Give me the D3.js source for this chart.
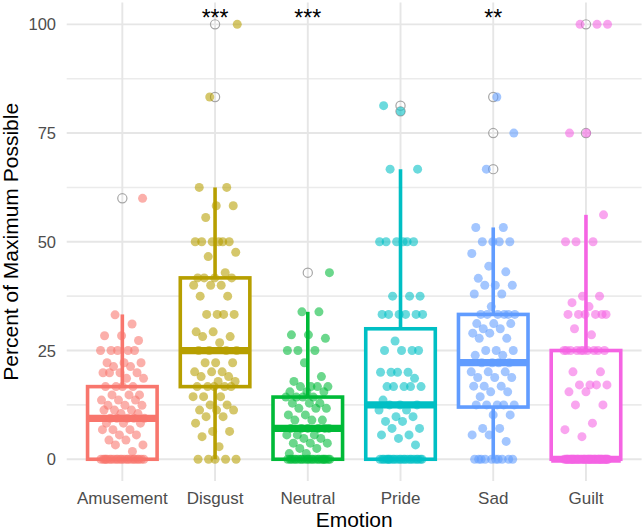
<!DOCTYPE html>
<html><head><meta charset="utf-8">
<script src="https://cdn.jsdelivr.net/npm/d3@7"></script>
<style>body{margin:0;background:#fff}svg{display:block}</style>
</head><body><svg id="chart" width="644" height="529"></svg>
<script>
const categories = ["Amusement","Disgust","Neutral","Pride","Sad","Guilt"];
const colors = ["#F8766D","#B79F00","#00BA38","#00BFC4","#619CFF","#F564E3"];
const yTicks = [0,25,50,75,100];
const yMinor = [12.5,37.5,62.5,87.5];
const boxLower  = [0,0,0,0,0,0];
const boxQ1     = [0,16.7,0,0,12,0];
const boxMedian = [9.4,25,7.1,12.5,22.2,0];
const boxQ3     = [16.7,41.7,14.3,30,33.3,25];
const boxUpper  = [33.3,62.5,33.9,66.7,53.3,56.2];
const outliers  = [[60],[83.3,100],[42.9],[80,81.3],[66.7,75,83.3],[75,100]];
const significance = ["","***","***","","**",""];

const amusement = [0,0,0,0,0,0,0,0,0,0,0,0,0,0,0,0,0,0,0,0,0,0,1.8,3.3,3.3,4.4,4.4,5.6,5.6,6.8,6.8,6.8,8.3,8.3,8.3,9.4,9.4,9.4,9.4,9.4,10.5,10.5,11.3,11.3,11.3,12.4,12.4,12.4,13.6,13.6,13.6,14.8,14.8,14.8,16.7,16.7,16.7,16.7,18.6,18.6,19.9,19.9,19.9,19.9,21.3,21.3,22.2,22.2,22.2,25,25,25,25,25,27.3,28.4,28.4,31.1,33.2,60];
const disgust = [0,0,0,0,0,2.9,5.2,6.4,6.4,8.3,9.8,9.8,11.3,11.3,11.3,12.5,12.5,14.4,14.4,14.4,16.7,16.7,16.7,16.7,16.7,17.9,17.9,19,19,20.1,20.1,20.1,22.2,22.2,22.2,25,25,25,25,26.8,28.2,28.2,29.3,29.3,33.3,33.3,33.3,33.3,37.5,37.5,40,40,40,41.7,41.7,41.7,41.7,42.9,46.6,47.6,50,50,50,50,50,50,55.6,58.3,58.3,62.5,62.5,83.3,100];
const neutral = [0,0,0,0,0,0,0,0,0,0,0,0,0,0,0,0,0,0,0,0,0,0,1.3,1.3,2.5,2.5,3.7,3.7,3.7,4.8,4.8,5.6,5.6,5.6,7.1,7.1,7.1,7.1,7.1,7.1,9,9,9,10.2,10.2,11.7,11.7,11.7,12.9,12.9,12.9,14.3,14.3,14.3,14.3,15.5,15.5,15.5,16.7,16.7,16.7,16.7,17.9,19,22.2,25,25,25,27.8,28.6,28.6,33.9,33.9,42.9];
const pride = [0,0,0,0,0,0,0,0,0,0,0,0,0,0,0,0,0,0,0,0,0,0,3.3,4.8,5.6,5.6,7.1,7.1,8.7,8.7,9.8,9.8,11.3,11.3,12.5,12.5,12.5,13.6,16.7,16.7,16.7,16.7,16.7,18.6,20,20,20,20,25,25,25,25,27.2,33.3,33.3,33.3,33.3,33.3,33.3,37.5,37.5,37.5,50,50,50,50,50,50,66.7,66.7,80,81.3];
const sad = [0,0,0,0,0,0,0,0,0,0,4.1,5.6,5.6,7.1,7.1,10.2,10.2,12.5,12.5,12.5,12.5,12.5,14.4,15.5,15.5,16.8,16.8,16.8,18.8,18.8,18.8,20.1,20.1,20.1,22.2,22.2,22.2,22.2,23.9,23.9,25,25,25,27.8,27.8,29,29,30,30,31.2,31.2,31.2,33.3,33.3,33.3,33.3,33.3,33.3,35.1,38,38,40,40,40,41.6,43.1,44.4,47.3,50,50,50,50,53.3,53.3,66.7,75,83.3];
const guilt = [0,0,0,0,0,0,0,0,0,0,0,0,0,0,0,0,0,0,0,0,0,0,0,0,0,0,0,0,0,0,0,0,0,0,0,0,0,0,0,0,0,0,0,0,0,0,5.2,6.8,8.3,12.5,12.5,15.5,15.5,17.1,17.1,17.1,17.1,20.1,20.1,25,25,25,25,25,25,25,25,25,25,28.6,30,33.3,33.3,33.3,33.3,33.3,33.3,35.1,36,37.5,37.5,50,50,50,56.2,75,75,100,100,100];
const pointSeries = [amusement, disgust, neutral, pride, sad, guilt];

const svg = d3.select("#chart");
const panel = {left: 66.7, right: 641.6, top: 2.6, bottom: 481};
const x = d3.scalePoint().domain(categories).range([panel.left, panel.right]).padding(0.6);
const y = d3.scaleLinear().domain([-5,105]).range([panel.bottom, panel.top]);
const step = x.step();
const boxHalf = 0.375 * step;
const jitterHalf = 0.24 * step;
const font = "'Liberation Sans', Arial, Helvetica, sans-serif";

// grid
const grid = svg.append("g");
grid.selectAll(".minor").data(yMinor).join("line")
  .attr("x1", panel.left).attr("x2", panel.right)
  .attr("y1", d => y(d)).attr("y2", d => y(d))
  .attr("stroke", "#ebebeb").attr("stroke-width", 1.6);
grid.selectAll(".major").data(yTicks).join("line")
  .attr("x1", panel.left).attr("x2", panel.right)
  .attr("y1", d => y(d)).attr("y2", d => y(d))
  .attr("stroke", "#e6e6e6").attr("stroke-width", 1.9);
grid.selectAll(".vert").data(categories).join("line")
  .attr("x1", d => x(d)).attr("x2", d => x(d))
  .attr("y1", panel.top).attr("y2", panel.bottom)
  .attr("stroke", "#e6e6e6").attr("stroke-width", 1.9);

// boxplots
const lw = 3.6;
const boxes = svg.append("g");
categories.forEach((c, i) => {
  const g = boxes.append("g");
  const cx = x(c), col = colors[i];
  g.append("line").attr("x1", cx).attr("x2", cx).attr("y1", y(boxQ3[i])).attr("y2", y(boxUpper[i]))
    .attr("stroke", col).attr("stroke-width", lw);
  g.append("line").attr("x1", cx).attr("x2", cx).attr("y1", y(boxQ1[i])).attr("y2", y(boxLower[i]))
    .attr("stroke", col).attr("stroke-width", lw);
  g.append("rect").attr("x", cx - boxHalf).attr("width", 2 * boxHalf)
    .attr("y", y(boxQ3[i])).attr("height", Math.max(0.01, y(boxQ1[i]) - y(boxQ3[i])))
    .attr("fill", "#fff").attr("stroke", col).attr("stroke-width", lw);
  g.append("line").attr("x1", cx - boxHalf).attr("x2", cx + boxHalf)
    .attr("y1", y(boxMedian[i])).attr("y2", y(boxMedian[i]))
    .attr("stroke", col).attr("stroke-width", lw * 2);
  g.selectAll("circle").data(outliers[i]).join("circle")
    .attr("cx", cx).attr("cy", d => y(d)).attr("r", 4.6)
    .attr("fill", "none").attr("stroke", "#a6a6a6").attr("stroke-width", 1.2);
});

// jittered points
const pts = svg.append("g");
pointSeries.forEach((arr, i) => {
  const c = categories[i];
  pts.append("g").selectAll("circle").data(arr).join("circle")
    .attr("cx", (d, j) => {
      const f = ((j * 0.6180339887 + i * 0.37 + 0.13) % 1);
      return x(c) + (f - 0.5) * 2 * jitterHalf;
    })
    .attr("cy", d => y(d)).attr("r", 4.5)
    .attr("fill", colors[i]).attr("fill-opacity", 0.58);
});

// significance
svg.append("g").selectAll("text").data(categories.filter((c, i) => significance[i]))
  .join("text")
  .attr("x", d => x(d)).attr("y", 25.5)
  .attr("text-anchor", "middle").attr("font-family", font).attr("font-size", 23)
  .attr("fill", "#000")
  .text(d => significance[categories.indexOf(d)]);

// axes text
svg.append("g").selectAll("text").data(yTicks).join("text")
  .attr("x", 56).attr("y", d => y(d) + 6)
  .attr("text-anchor", "end").attr("font-family", font).attr("font-size", 16.5)
  .attr("fill", "#4d4d4d").text(d => d);
svg.append("g").selectAll("text").data(categories).join("text")
  .attr("x", d => x(d)).attr("y", 504)
  .attr("text-anchor", "middle").attr("font-family", font).attr("font-size", 17)
  .attr("fill", "#4d4d4d").text(d => d);
svg.append("text").attr("x", (panel.left + panel.right) / 2).attr("y", 526.5)
  .attr("text-anchor", "middle").attr("font-family", font).attr("font-size", 21)
  .attr("fill", "#000").text("Emotion");
const ty = (panel.top + panel.bottom) / 2;
svg.append("text").attr("x", 18.5).attr("y", ty)
  .attr("transform", `rotate(-90, 18.5, ${ty})`)
  .attr("text-anchor", "middle").attr("font-family", font).attr("font-size", 21)
  .attr("fill", "#000").text("Percent of Maximum Possible");
</script></body></html>
